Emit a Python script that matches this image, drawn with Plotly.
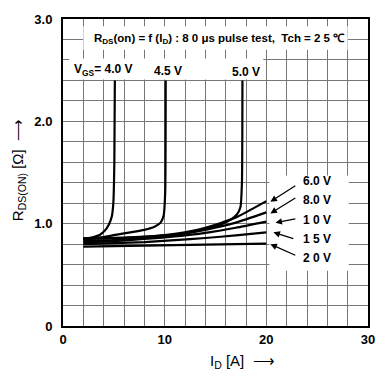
import plotly.graph_objects as go

# ---- data ----
I_40 = [2, 3, 3.6, 4.1, 4.5, 4.8, 4.95, 5.05, 5.1]
R_40 = [0.85, 0.87, 0.89, 0.93, 0.99, 1.07, 1.2, 1.6, 2.4]

I_45 = [2, 4, 6, 8, 9, 9.6, 9.9, 10.05, 10.1]
R_45 = [0.85, 0.87, 0.905, 0.94, 0.97, 1.01, 1.08, 1.3, 2.4]

I_50 = [2, 6, 10, 12, 14, 15.5, 16.5, 17.1, 17.45, 17.6, 17.65]
R_50 = [0.86, 0.865, 0.885, 0.905, 0.95, 0.99, 1.04, 1.09, 1.16, 1.4, 2.4]

I_hi = [2, 5, 8, 11, 14, 17, 20]
R_60 = [0.85, 0.855, 0.87, 0.90, 0.96, 1.06, 1.22]
R_80 = [0.83, 0.84, 0.86, 0.89, 0.94, 1.01, 1.11]
R_10 = [0.82, 0.83, 0.85, 0.875, 0.91, 0.96, 1.02]
R_15 = [0.80, 0.81, 0.82, 0.84, 0.86, 0.885, 0.915]
R_20 = [0.775, 0.78, 0.785, 0.79, 0.795, 0.80, 0.805]

x_ticks = [0, 10, 20, 30]
x_tick_text = ["0", "10", "20", "30"]
y_ticks = [0, 1, 2, 3]
y_tick_text = ["0", "1.0", "2.0", "3.0"]

right_labels = ["6.0 V", "8.0 V", "1 0 V", "1 5 V", "2 0 V"]
right_label_R = [1.42, 1.23, 1.04, 0.85, 0.66]
arrow_head_I = [20.4, 20.4, 20.9, 20.7, 20.4]
arrow_head_R = [1.215, 1.10, 1.01, 0.915, 0.80]
arrow_tail_I = [23.0, 23.0, 23.0, 22.8, 23.0]
arrow_tail_R = [1.38, 1.26, 1.05, 0.85, 0.685]

FONT = "Liberation Sans, Arial, sans-serif"

fig = go.Figure()
curves = [(I_40, R_40), (I_45, R_45), (I_50, R_50),
          (I_hi, R_60), (I_hi, R_80), (I_hi, R_10), (I_hi, R_15), (I_hi, R_20)]
for I, R in curves:
    fig.add_trace(go.Scatter(x=I, y=R, mode="lines",
                             line=dict(color="black", width=2.2, shape="spline", smoothing=0.5),
                             showlegend=False, hoverinfo="skip"))

# white masks behind the printed labels (hide grid there)
masks = [(2.0, 28.0, 2.70, 2.93), (0.6, 19.7, 2.41, 2.615), (20.3, 28.1, 0.54, 1.47)]
for x0, x1, y0, y1 in masks:
    fig.add_shape(type="rect", x0=x0, x1=x1, y0=y0, y1=y1, xref="x", yref="y",
                  fillcolor="white", line=dict(width=0), layer="between")

ann = []
ann.append(dict(x=15.4, y=2.806, xref="x", yref="y", showarrow=False,
                text="R<sub>DS</sub>(on) = f (I<sub>D</sub>) : 8 0 μs pulse test,  Tch = 2 5 ℃",
                font=dict(family=FONT, size=11.5, color="black", weight="bold")))
ann.append(dict(x=3.94, y=2.50, xref="x", yref="y", showarrow=False,
                text="V<sub>GS</sub>= 4.0 V", font=dict(family=FONT, size=12, color="black", weight="bold")))
ann.append(dict(x=10.3, y=2.49, xref="x", yref="y", showarrow=False,
                text="4.5 V", font=dict(family=FONT, size=12, color="black", weight="bold")))
ann.append(dict(x=18.0, y=2.48, xref="x", yref="y", showarrow=False,
                text="5.0 V", font=dict(family=FONT, size=12, color="black", weight="bold")))
for t, r in zip(right_labels, right_label_R):
    ann.append(dict(x=23.4, y=r, xref="x", yref="y", showarrow=False, xanchor="left",
                    text=t, font=dict(family=FONT, size=12, color="black", weight="bold")))
for hx, hy, tx, ty in zip(arrow_head_I, arrow_head_R, arrow_tail_I, arrow_tail_R):
    ann.append(dict(x=hx, y=hy, ax=tx, ay=ty, xref="x", yref="y", axref="x", ayref="y",
                    text="", showarrow=True, arrowhead=2, arrowsize=1, arrowwidth=1.3,
                    arrowcolor="black", standoff=0, startstandoff=0))
ann.append(dict(x=0.59, y=-0.116, xref="paper", yref="paper", showarrow=False,
                xanchor="center", yanchor="middle",
                text="I<sub>D</sub> [A]  ⟶", font=dict(family=FONT, size=15, color="black")))
ann.append(dict(x=-0.147, y=0.508, xref="paper", yref="paper", showarrow=False, textangle=-90,
                xanchor="center", yanchor="middle",
                text="R<sub>DS(ON)</sub> [Ω]  ⟶", font=dict(family=FONT, size=15, color="black")))

grid = "#777777"
fig.update_layout(
    width=387, height=383,
    margin=dict(l=63, r=12, t=15, b=57),
    paper_bgcolor="white", plot_bgcolor="white",
    showlegend=False,
    annotations=ann,
    xaxis=dict(range=[0, 30], tickvals=x_ticks, ticktext=x_tick_text,
               showgrid=True, gridcolor=grid, gridwidth=1,
               minor=dict(dtick=2, showgrid=True, gridcolor=grid, gridwidth=1),
               showline=True, linecolor="black", linewidth=2, mirror=True,
               ticks="", zeroline=False, ticklabeloverflow="allow",
               tickfont=dict(family=FONT, size=13, color="black", weight="bold")),
    yaxis=dict(range=[0, 3], tickvals=y_ticks, ticktext=y_tick_text,
               showgrid=True, gridcolor=grid, gridwidth=1,
               minor=dict(dtick=0.2, showgrid=True, gridcolor=grid, gridwidth=1),
               showline=True, linecolor="black", linewidth=2, mirror=True,
               ticks="", zeroline=False, ticklabelstandoff=6,
               tickfont=dict(family=FONT, size=13, color="black", weight="bold")),
)

fig.write_html("out.html", config={"displayModeBar": False},
               post_script="document.body.style.margin='0';")
